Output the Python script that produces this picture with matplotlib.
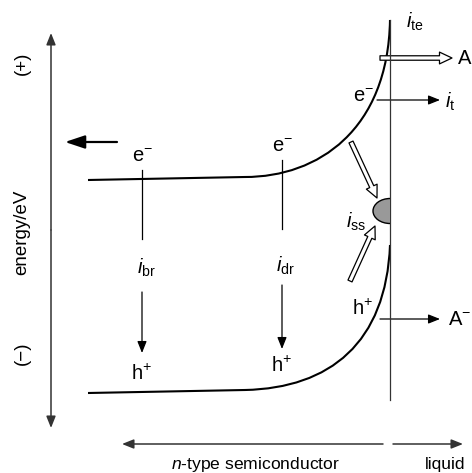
import matplotlib.pyplot as plt
from matplotlib.patches import FancyArrowPatch, Ellipse, Rectangle, PathPatch
from matplotlib.path import Path

plt.rcParams['font.family'] = ['Liberation Sans', 'DejaVu Sans']
plt.rcParams['mathtext.fontset'] = 'custom'
plt.rcParams['mathtext.rm'] = 'Liberation Sans'
plt.rcParams['mathtext.it'] = 'Liberation Sans:italic'

# band edges: flat part, then a cubic bend up to the interface
cb_pts = [(88, 180), (245, 177), (318, 177), (388, 130), (390, 20)]
vb_pts = [(88, 393), (245, 390), (330, 388), (386, 343), (390, 245)]
x_iface = 390

# labels
carrier_labels = [("e$^{-}$", 142, 156), ("e$^{-}$", 282, 146), ("e$^{-}$", 363, 96),
                  ("h$^{+}$", 142, 374), ("h$^{+}$", 282, 366), ("h$^{+}$", 363, 309)]
current_labels = [("$i_{\\mathrm{br}}$", 146, 268), ("$i_{\\mathrm{dr}}$", 285, 266),
                  ("$i_{\\mathrm{te}}$", 415, 22), ("$i_{\\mathrm{t}}$", 450, 102),
                  ("$i_{\\mathrm{ss}}$", 356, 222)]

fs = 13.5
fl = 14.5

fig = plt.figure(figsize=(4.72, 4.73), dpi=100)
ax = fig.add_axes([0, 0, 1, 1])
ax.set_xlim(0, 472)
ax.set_ylim(473, 0)
ax.axis('off')


def band(pts):
    codes = [Path.MOVETO, Path.LINETO, Path.CURVE4, Path.CURVE4, Path.CURVE4]
    return PathPatch(Path(pts, codes), fc='none', ec='black', lw=1.5, capstyle='butt')


ax.add_patch(band(cb_pts))
ax.add_patch(band(vb_pts))

# interface
ax.plot([x_iface, x_iface], [20, 400], color='#333333', lw=0.9)

# surface state
blob = Ellipse((x_iface, 211), 34, 25, fc='#999999', ec='black', lw=1.0, zorder=3)
ax.add_patch(blob)
blob.set_clip_path(Rectangle((350, 190), x_iface - 350, 40, transform=ax.transData))


def arrow(p0, p1, style, **kw):
    a = FancyArrowPatch(p0, p1, arrowstyle=style, mutation_scale=10,
                        shrinkA=0, shrinkB=0, **kw)
    ax.add_patch(a)


thin = '-|>,head_length=0.7,head_width=0.28'
hollow = 'simple,tail_width=0.32,head_width=0.85,head_length=0.9'

# energy axis
arrow((51, 230), (51, 33), thin, color='#333333', lw=1.1)
arrow((51, 230), (51, 428), thin, color='#333333', lw=1.1)
ax.text(22, 63, "(+)", rotation=90, ha='center', va='center', fontsize=fs)
ax.text(22, 232, "energy/eV", rotation=90, ha='center', va='center', fontsize=fs)
ax.text(22, 353, "(\u2212)", rotation=90, ha='center', va='center', fontsize=fs)

# left arrow
arrow((117, 142), (65, 142), '-|>,head_length=1.2,head_width=0.4', color='black', lw=1.6)

# carrier transport lines in the bulk
for x, y0, y1, y2, y3 in [(142, 170, 239, 292, 353), (282, 160, 229, 285, 349)]:
    ax.plot([x, x], [y0, y1], color='black', lw=0.9)
    arrow((x, y2), (x, y3), thin, color='black', lw=0.9)

# transfer across interface
arrow((377, 100), (440, 100), thin, color='black', lw=0.9)
arrow((380, 319), (440, 319), thin, color='black', lw=0.9)
arrow((380, 58), (452, 58), hollow, fc='white', ec='black', lw=0.9)
arrow((351, 142), (377, 198), hollow, fc='white', ec='black', lw=0.9)
arrow((350, 281), (375, 226), hollow, fc='white', ec='black', lw=0.9)

ax.text(458, 58, "A", ha='left', va='center', fontsize=fl)
ax.text(448, 319, "A$^{-}$", ha='left', va='center', fontsize=fl)

for s, x, y in carrier_labels + current_labels:
    ax.text(x, y, s, ha='center', va='center', fontsize=fl)

# region arrows
arrow((383, 444), (122, 444), thin, color='#333333', lw=1.1)
arrow((393, 444), (463, 444), thin, color='#333333', lw=1.1)
ax.text(256, 464, "$n$-type semiconductor", ha='center', va='center', fontsize=12.6)
ax.text(445, 464, "liquid", ha='center', va='center', fontsize=12.6)

fig.savefig("out.png", dpi=100)
